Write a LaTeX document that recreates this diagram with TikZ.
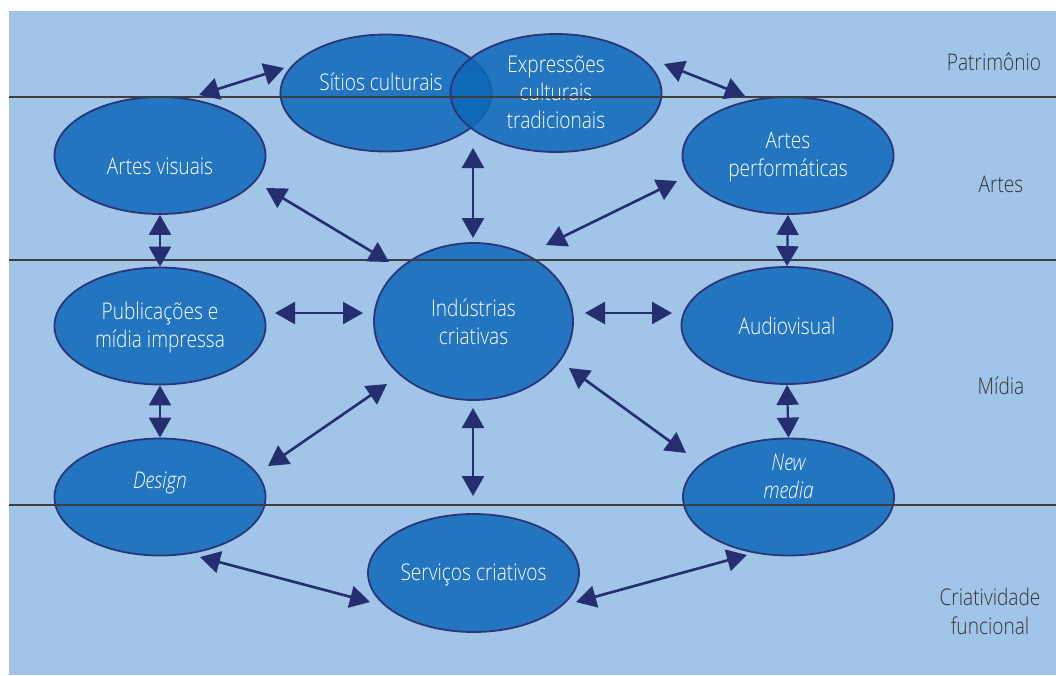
\documentclass[tikz,border=0pt]{standalone}
\usepackage{fontspec}
\IfFontExistsTF{Open Sans Light}
  {\setmainfont{Open Sans Light}[FakeStretch=0.83]}
  {\setmainfont{Open Sans}[FakeStretch=0.8]}
\usetikzlibrary{arrows.meta,shapes.geometric}
\definecolor{bgblue}{RGB}{160,197,232}
\definecolor{ellfill}{RGB}{13,104,183}
\definecolor{navy}{RGB}{37,46,110}
\definecolor{ebord}{RGB}{43,54,120}
\definecolor{rulegray}{RGB}{60,62,68}
\definecolor{labelgray}{RGB}{51,51,51}
\begin{document}
\begin{tikzpicture}[x=1pt,y=-1pt,
  ell/.style={ellipse, draw=ebord, line width=1.8pt, fill=ellfill, fill opacity=0.85,
    draw opacity=1, inner sep=0pt, minimum width=211pt, minimum height=117pt},
  ltxt/.style={text=white, align=center, text opacity=1, fill opacity=1,
    font=\fontsize{23}{28}\selectfont},
  sidelab/.style={text=labelgray, align=center, font=\fontsize{23}{29}\selectfont},
  band/.style={draw=rulegray, line width=1.4pt},
  biarrow/.style={navy, line width=2.6pt,
    {Triangle[length=20pt,width=22pt]}-{Triangle[length=20pt,width=22pt]}},
  shortarrow/.style={biarrow, line width=2.2pt}]

\fill[white] (0,0) rectangle (1056,675);
\useasboundingbox (0,0) rectangle (1056,675);
\fill[bgblue] (9,11) rectangle (1056,675);

% ellipses
\node[ell, label={[ltxt, xshift=-5pt, yshift=11pt]center:Sítios culturais}] (sit) at (386,93) {};
\node[ell, minimum height=118pt, label={[ltxt, yshift=1pt]center:Expressões\\culturais\\tradicionais}] (exp) at (556,93) {};
\node[ell, label={[ltxt, yshift=-11pt]center:Artes visuais}] (av) at (160,155.5) {};
\node[ell, label={[ltxt, yshift=-1.5pt]center:Artes\\performáticas}] (ap) at (788,155.5) {};
\node[ell, minimum width=199pt, minimum height=157pt, label={[ltxt, yshift=0pt]center:Indústrias\\criativas}] (ind) at (473.5,321.5) {};
\node[ell, label={[ltxt, yshift=-1.5pt]center:Publicações e\\mídia impressa}] (pub) at (160,326) {};
\node[ell, label={[ltxt]center:Audiovisual}] (aud) at (787,325.5) {};
\node[ell, label={[ltxt, yshift=14pt]center:\itshape Design}] (des) at (160,497) {};
\node[ell, label={[ltxt, yshift=21pt]center:\itshape New\\\itshape media}] (nm) at (788.5,497) {};
\node[ell, minimum height=118pt, label={[ltxt, yshift=-1.5pt]center:Serviços criativos}] (ser) at (473.5,573) {};

% band separators
\coordinate (l1a) at (9,97);   \coordinate (l1b) at (1056,97);
\coordinate (l2a) at (9,260);  \coordinate (l2b) at (1056,260);
\coordinate (l3a) at (9,505);  \coordinate (l3b) at (1056,505);
\draw[band] (l1a) -- (l1b);
\draw[band] (l2a) -- (l2b);
\draw[band] (l3a) -- (l3b);

% side labels
\node[sidelab] (patr) at (994,62) {Patrimônio};
\node[sidelab] (artes) at (1001,184) {Artes};
\node[sidelab] (midia) at (1001,386) {Mídia};
\node[sidelab] (crf) at (990,611) {Criatividade\\funcional};

% arrow end points
\coordinate (a1s) at (199,95);  \coordinate (a1e) at (284,68);
\coordinate (a2s) at (664,64);  \coordinate (a2e) at (745,96);
\coordinate (a3s) at (473,148); \coordinate (a3e) at (473,238);
\coordinate (a4s) at (266,188); \coordinate (a4e) at (389,262);
\coordinate (a5s) at (546,245); \coordinate (a5e) at (677,181);
\coordinate (a8s) at (275,313); \coordinate (a8e) at (363,313);
\coordinate (a9s) at (585,313); \coordinate (a9e) at (672,313);
\coordinate (a12s) at (268,466); \coordinate (a12e) at (387,384);
\coordinate (a13s) at (569,368); \coordinate (a13e) at (686,453);
\coordinate (a14s) at (473,408); \coordinate (a14e) at (473,496);
\coordinate (a15s) at (200,557); \coordinate (a15e) at (370,602);
\coordinate (a16s) at (576,602); \coordinate (a16e) at (747,555);

% connectors
\draw[biarrow] (a1s) -- (a1e);
\draw[biarrow] (a2s) -- (a2e);
\draw[biarrow] (a3s) -- (a3e);
\draw[biarrow] (a4s) -- (a4e);
\draw[biarrow] (a5s) -- (a5e);
\draw[shortarrow] (av.south) -- (pub.north);
\draw[shortarrow] (ap.south) -- (aud.north);
\draw[biarrow] (a8s) -- (a8e);
\draw[biarrow] (a9s) -- (a9e);
\draw[shortarrow] (pub.south) -- (des.north);
\draw[shortarrow] (aud.south) -- (nm.north);
\draw[biarrow] (a12s) -- (a12e);
\draw[biarrow] (a13s) -- (a13e);
\draw[biarrow] (a14s) -- (a14e);
\draw[biarrow] (a15s) -- (a15e);
\draw[biarrow] (a16s) -- (a16e);
\end{tikzpicture}
\end{document}
